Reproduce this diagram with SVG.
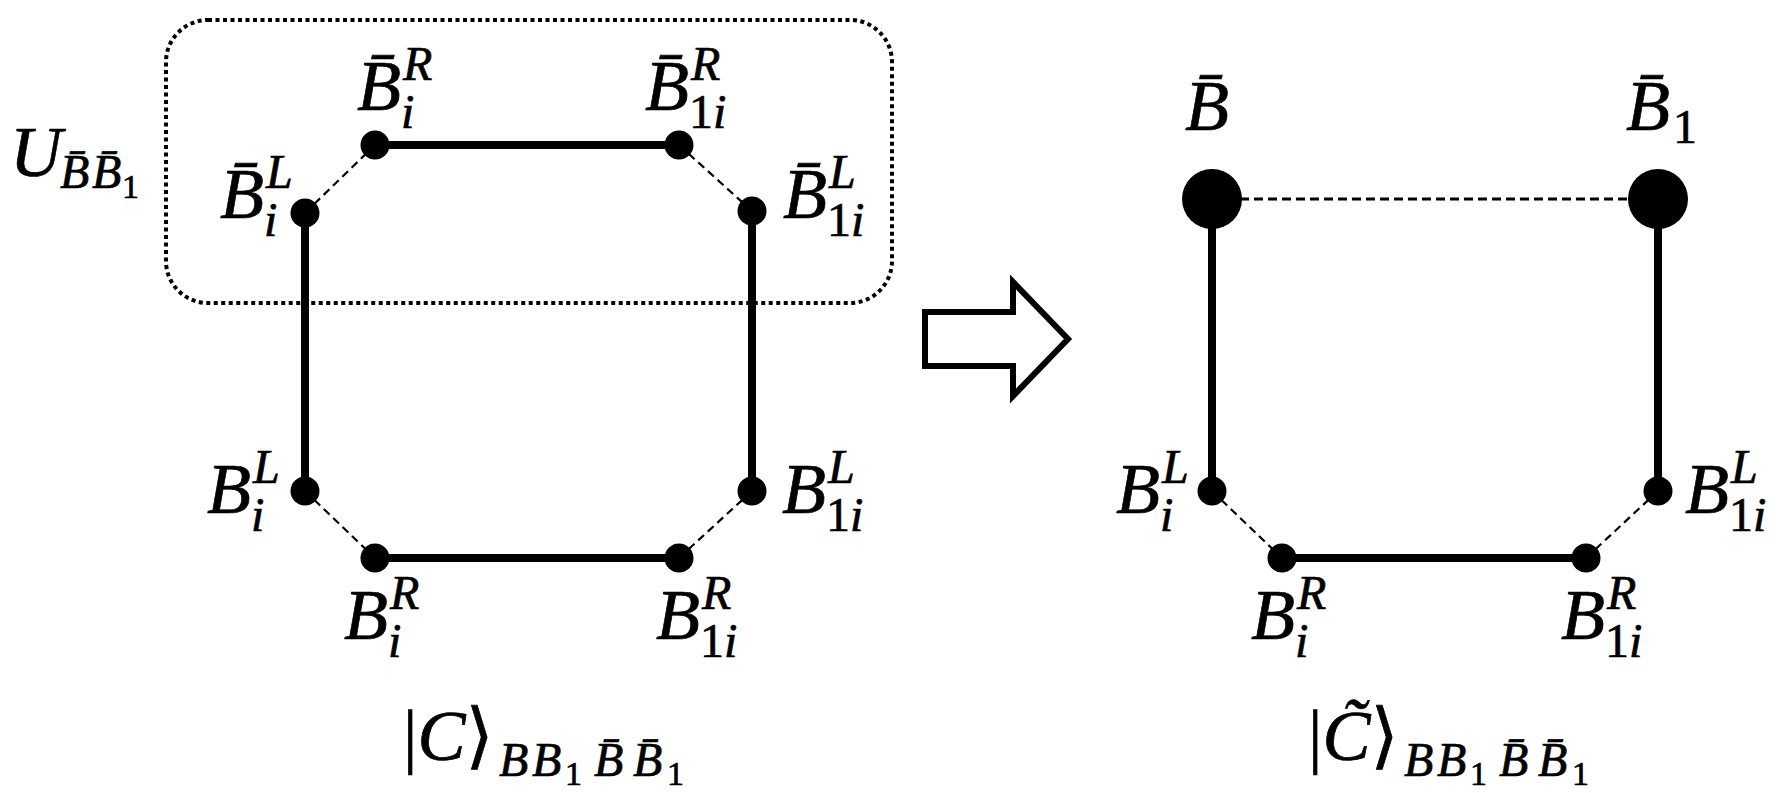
<svg xmlns="http://www.w3.org/2000/svg" width="1789" height="793" viewBox="0 0 1789 793">
<style>
text{font-family:"Liberation Serif","DejaVu Serif",serif;font-style:italic;fill:#000;stroke:#000;stroke-width:0.7}
.m{font-size:72px}
.s{font-size:48px}
.ss{font-size:34px;font-style:normal}
.up{font-style:normal}
.thick{stroke:#000;stroke-width:8;fill:none}
.dash{stroke:#000;stroke-width:2.2;stroke-dasharray:8 5;fill:none}
.hdash{stroke:#000;stroke-width:2.8;stroke-dasharray:9 5;fill:none}
.dot{fill:#000}
</style>
<rect width="1789" height="793" fill="#fff"/>
<rect x="166" y="20" width="726" height="283" rx="42" ry="42" fill="none" stroke="#000" stroke-width="4" stroke-dasharray="4 3.5"/>
<g id="U-label"><text class="m" x="10" y="176">U</text><text class="s" x="60" y="188">B̄</text><text class="s" x="92" y="188">B̄</text><text class="ss" x="122" y="198">1</text></g>
<g id="connectors">
<line class="thick" x1="375" y1="145" x2="679" y2="145"/>
<line class="thick" x1="305" y1="213" x2="305" y2="491"/>
<line class="thick" x1="752" y1="211" x2="752" y2="491"/>
<line class="thick" x1="375" y1="558" x2="679" y2="558"/>
<line class="dash" x1="305" y1="213" x2="375" y2="145"/>
<line class="dash" x1="679" y1="145" x2="752" y2="211"/>
<line class="dash" x1="305" y1="491" x2="375" y2="558"/>
<line class="dash" x1="679" y1="558" x2="752" y2="491"/>
<line class="thick" x1="1212" y1="199" x2="1212" y2="491"/>
<line class="thick" x1="1658" y1="199" x2="1658" y2="491"/>
<line class="hdash" x1="1212" y1="199" x2="1658" y2="199"/>
<line class="thick" x1="1282" y1="558" x2="1586" y2="558"/>
<line class="dash" x1="1212" y1="491" x2="1282" y2="558"/>
<line class="dash" x1="1586" y1="558" x2="1658" y2="491"/>
</g>
<g id="n-bBiR"><circle class="dot" cx="375" cy="145" r="14.5"/><text class="m" x="357" y="110">B̄</text><text class="s" x="403" y="80">R</text><text class="s" x="401" y="128">i</text></g>
<g id="n-bB1iR"><circle class="dot" cx="679" cy="145" r="14.5"/><text class="m" x="645" y="110">B̄</text><text class="s" x="691" y="80">R</text><text class="s" x="689" y="128"><tspan class="up">1</tspan>i</text></g>
<g id="n-bBiL"><circle class="dot" cx="305" cy="213" r="14.5"/><text class="m" x="220" y="218">B̄</text><text class="s" x="266" y="188">L</text><text class="s" x="264" y="236">i</text></g>
<g id="n-bB1iL"><circle class="dot" cx="752" cy="211" r="14.5"/><text class="m" x="783" y="218">B̄</text><text class="s" x="829" y="188">L</text><text class="s" x="827" y="236"><tspan class="up">1</tspan>i</text></g>
<g id="n-BiL"><circle class="dot" cx="305" cy="491" r="14.5"/><text class="m" x="207" y="513">B</text><text class="s" x="253" y="483">L</text><text class="s" x="251" y="531">i</text></g>
<g id="n-B1iL"><circle class="dot" cx="752" cy="491" r="14.5"/><text class="m" x="782" y="513">B</text><text class="s" x="828" y="483">L</text><text class="s" x="826" y="531"><tspan class="up">1</tspan>i</text></g>
<g id="n-BiR"><circle class="dot" cx="375" cy="558" r="14.5"/><text class="m" x="344" y="639">B</text><text class="s" x="390" y="609">R</text><text class="s" x="388" y="657">i</text></g>
<g id="n-B1iR"><circle class="dot" cx="679" cy="558" r="14.5"/><text class="m" x="656" y="639">B</text><text class="s" x="702" y="609">R</text><text class="s" x="700" y="657"><tspan class="up">1</tspan>i</text></g>
<g id="label-C"><text class="m" x="403" y="760"><tspan class="up">|</tspan>C<tspan class="up">⟩</tspan></text><text class="s" x="499" y="776">B</text><text class="s" x="532" y="776">B</text><text class="ss" x="565" y="785">1</text><text class="s" x="594" y="776">B̄</text><text class="s" x="633" y="776">B̄</text><text class="ss" x="667" y="785">1</text></g>
<g id="arrow"><polygon points="925,312 1013,312 1013,282 1068,339 1013,396 1013,366 925,366" fill="#fff" stroke="#000" stroke-width="6" stroke-linejoin="miter"/></g>
<g id="n-bB"><circle class="dot" cx="1212" cy="199" r="30"/><text class="m" x="1185" y="130">B̄</text></g>
<g id="n-bB1"><circle class="dot" cx="1658" cy="199" r="30"/><text class="m" x="1626" y="130">B̄</text><text class="s up" x="1673" y="143">1</text></g>
<g id="r-BiL"><circle class="dot" cx="1212" cy="491" r="14.5"/><text class="m" x="1116" y="513">B</text><text class="s" x="1162" y="483">L</text><text class="s" x="1160" y="531">i</text></g>
<g id="r-B1iL"><circle class="dot" cx="1658" cy="491" r="14.5"/><text class="m" x="1685" y="513">B</text><text class="s" x="1731" y="483">L</text><text class="s" x="1729" y="531"><tspan class="up">1</tspan>i</text></g>
<g id="r-BiR"><circle class="dot" cx="1282" cy="558" r="14.5"/><text class="m" x="1251" y="639">B</text><text class="s" x="1297" y="609">R</text><text class="s" x="1295" y="657">i</text></g>
<g id="r-B1iR"><circle class="dot" cx="1586" cy="558" r="14.5"/><text class="m" x="1561" y="639">B</text><text class="s" x="1607" y="609">R</text><text class="s" x="1605" y="657"><tspan class="up">1</tspan>i</text></g>
<g id="label-Ct"><text class="m" x="1308" y="760"><tspan class="up">|</tspan>C̃<tspan class="up">⟩</tspan></text><text class="s" x="1404" y="776">B</text><text class="s" x="1437" y="776">B</text><text class="ss" x="1470" y="785">1</text><text class="s" x="1499" y="776">B̄</text><text class="s" x="1538" y="776">B̄</text><text class="ss" x="1572" y="785">1</text></g>
</svg>
